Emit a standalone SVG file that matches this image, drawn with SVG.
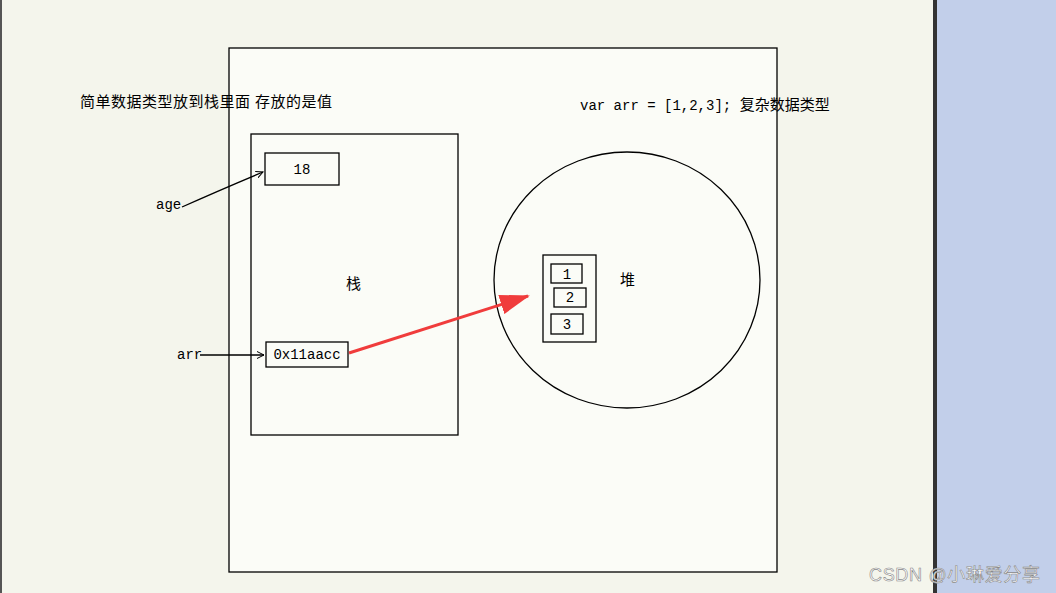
<svg xmlns="http://www.w3.org/2000/svg" width="1056" height="593" viewBox="0 0 1056 593">
<style>
.b{fill:none;stroke:#000;stroke-width:1.3}
.t{font-family:"Liberation Mono","Noto Sans CJK SC",monospace;font-size:14px;fill:#000}
.c{font-family:"Liberation Sans","Noto Sans CJK SC",sans-serif;font-size:15px;fill:#000}
</style>
<defs>
<marker id="a" markerWidth="8" markerHeight="8" refX="7" refY="4" orient="auto" markerUnits="userSpaceOnUse"><path d="M0,0.5 L7,4 L0,7.5" fill="none" stroke="#000"/></marker>
<marker id="r" markerWidth="30" markerHeight="20" refX="28" refY="10" orient="auto" markerUnits="userSpaceOnUse"><path d="M0,0 L30,10 L0,20 Z" fill="#f03c3c"/></marker>
</defs>
<rect width="1056" height="593" fill="#f4f5ec"/>
<rect x="936" y="0" width="120" height="593" fill="#c2cfea"/>
<rect x="933" y="0" width="4" height="593" fill="#333"/>
<rect x="0" y="0" width="2" height="593" fill="#555"/>
<rect x="229" y="48" width="548" height="524" fill="#fbfcf7" stroke="#000" stroke-width="1.3"/>
<text class="c" x="80" y="107" textLength="252">简单数据类型放到栈里面 存放的是值</text>
<text class="t" x="580" y="110">var arr = [1,2,3]; <tspan class="c">复杂数据类型</tspan></text>
<g id="stack"><rect class="b" x="251" y="134" width="207" height="301"/><text class="c" x="346" y="289">栈</text></g>
<g id="n18"><rect class="b" x="265" y="153" width="74" height="32"/><text class="t" x="302" y="174" text-anchor="middle">18</text></g>
<g id="naddr"><rect class="b" x="266" y="342" width="82" height="25"/><text class="t" x="307" y="359" text-anchor="middle">0x11aacc</text></g>
<text class="t" x="156" y="209">age</text>
<text class="t" x="177" y="359">arr</text>
<g id="heap"><ellipse class="b" cx="627" cy="280" rx="133" ry="128"/><text class="c" x="620" y="285">堆</text></g>
<g id="arrbox"><rect class="b" x="543" y="255" width="53" height="87"/>
<rect class="b" x="551" y="264" width="31" height="19"/><text class="t" x="567" y="279" text-anchor="middle">1</text>
<rect class="b" x="554" y="288" width="32" height="19"/><text class="t" x="570" y="302" text-anchor="middle">2</text>
<rect class="b" x="551" y="314" width="32" height="20"/><text class="t" x="567" y="329" text-anchor="middle">3</text></g>
<g id="connectors">
<path class="b" d="M182,207 Q220,190 263,172" marker-end="url(#a)"/>
<path class="b" d="M200,355 L264,355" marker-end="url(#a)"/>
<path d="M349,353 L528,296" stroke="#f03c3c" stroke-width="3" fill="none" marker-end="url(#r)"/>
</g>
<text x="869" y="581" font-family="Liberation Sans,Noto Sans CJK SC,sans-serif" font-size="18" fill="#fff" stroke="#888" stroke-width="0.6" textLength="171">CSDN @小琳爱分享</text>
</svg>
